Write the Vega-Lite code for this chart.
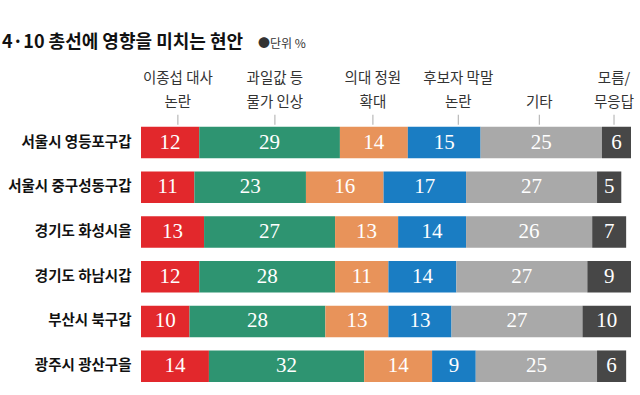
{
  "$schema": "https://vega.github.io/schema/vega-lite/v6.json",
  "width": 490,
  "height": 300,
  "autosize": "none",
  "padding": {"left": 141, "top": 82, "right": 9, "bottom": 13},
  "background": "white",
  "title": {
    "text": "4·10 총선에 영향을 미치는 현안",
    "anchor": "start",
    "frame": "group",
    "dx": -139,
    "offset": 0,
    "dy": 14,
    "font": "Noto Sans CJK KR",
    "fontSize": 18,
    "fontWeight": "bold",
    "color": "#111111"
  },
  "config": {"font": "Noto Sans CJK KR", "view": {"stroke": null}},
  "datasets": {
    "main": [
      {"d": "서울시 영등포구갑", "c": "이종섭 대사 논란", "k": 1, "v": 12},
      {"d": "서울시 영등포구갑", "c": "과일값 등 물가 인상", "k": 2, "v": 29},
      {"d": "서울시 영등포구갑", "c": "의대 정원 확대", "k": 3, "v": 14},
      {"d": "서울시 영등포구갑", "c": "후보자 막말 논란", "k": 4, "v": 15},
      {"d": "서울시 영등포구갑", "c": "기타", "k": 5, "v": 25},
      {"d": "서울시 영등포구갑", "c": "모름/무응답", "k": 6, "v": 6},
      {"d": "서울시 중구성동구갑", "c": "이종섭 대사 논란", "k": 1, "v": 11},
      {"d": "서울시 중구성동구갑", "c": "과일값 등 물가 인상", "k": 2, "v": 23},
      {"d": "서울시 중구성동구갑", "c": "의대 정원 확대", "k": 3, "v": 16},
      {"d": "서울시 중구성동구갑", "c": "후보자 막말 논란", "k": 4, "v": 17},
      {"d": "서울시 중구성동구갑", "c": "기타", "k": 5, "v": 27},
      {"d": "서울시 중구성동구갑", "c": "모름/무응답", "k": 6, "v": 5},
      {"d": "경기도 화성시을", "c": "이종섭 대사 논란", "k": 1, "v": 13},
      {"d": "경기도 화성시을", "c": "과일값 등 물가 인상", "k": 2, "v": 27},
      {"d": "경기도 화성시을", "c": "의대 정원 확대", "k": 3, "v": 13},
      {"d": "경기도 화성시을", "c": "후보자 막말 논란", "k": 4, "v": 14},
      {"d": "경기도 화성시을", "c": "기타", "k": 5, "v": 26},
      {"d": "경기도 화성시을", "c": "모름/무응답", "k": 6, "v": 7},
      {"d": "경기도 하남시갑", "c": "이종섭 대사 논란", "k": 1, "v": 12},
      {"d": "경기도 하남시갑", "c": "과일값 등 물가 인상", "k": 2, "v": 28},
      {"d": "경기도 하남시갑", "c": "의대 정원 확대", "k": 3, "v": 11},
      {"d": "경기도 하남시갑", "c": "후보자 막말 논란", "k": 4, "v": 14},
      {"d": "경기도 하남시갑", "c": "기타", "k": 5, "v": 27},
      {"d": "경기도 하남시갑", "c": "모름/무응답", "k": 6, "v": 9},
      {"d": "부산시 북구갑", "c": "이종섭 대사 논란", "k": 1, "v": 10},
      {"d": "부산시 북구갑", "c": "과일값 등 물가 인상", "k": 2, "v": 28},
      {"d": "부산시 북구갑", "c": "의대 정원 확대", "k": 3, "v": 13},
      {"d": "부산시 북구갑", "c": "후보자 막말 논란", "k": 4, "v": 13},
      {"d": "부산시 북구갑", "c": "기타", "k": 5, "v": 27},
      {"d": "부산시 북구갑", "c": "모름/무응답", "k": 6, "v": 10},
      {"d": "광주시 광산구을", "c": "이종섭 대사 논란", "k": 1, "v": 14},
      {"d": "광주시 광산구을", "c": "과일값 등 물가 인상", "k": 2, "v": 32},
      {"d": "광주시 광산구을", "c": "의대 정원 확대", "k": 3, "v": 14},
      {"d": "광주시 광산구을", "c": "후보자 막말 논란", "k": 4, "v": 9},
      {"d": "광주시 광산구을", "c": "기타", "k": 5, "v": 25},
      {"d": "광주시 광산구을", "c": "모름/무응답", "k": 6, "v": 6}
    ],
    "header": [
      {"l1": "이종섭 대사", "l2": "논란", "p": 7.6},
      {"l1": "과일값 등", "l2": "물가 인상", "p": 27.6},
      {"l1": "의대 정원", "l2": "확대", "p": 47.8},
      {"l1": "후보자 막말", "l2": "논란", "p": 65.4},
      {"l1": "", "l2": "기타", "p": 82.1},
      {"l1": "모름/", "l2": "무응답", "p": 97.5}
    ],
    "unit": [{"lab": "●단위 %", "p": 24.1}]
  },
  "encoding": {
    "y": {
      "field": "d",
      "type": "nominal",
      "scale": {
        "domain": ["h", "서울시 영등포구갑", "서울시 중구성동구갑", "경기도 화성시을", "경기도 하남시갑", "부산시 북구갑", "광주시 광산구을"],
        "paddingInner": 0.295,
        "paddingOuter": 0
      },
      "axis": {
        "title": null,
        "domain": false,
        "ticks": false,
        "labelPadding": 10,
        "labelFontSize": 14.5,
        "labelFontWeight": "bold",
        "labelColor": "#111111",
        "labelFont": "Noto Sans CJK KR",
        "labelExpr": "datum.value == 'h' ? '' : datum.value"
      }
    }
  },
  "layer": [
    {
      "data": {"name": "main"},
      "mark": {"type": "bar"},
      "encoding": {
        "x": {"field": "v", "type": "quantitative", "stack": "zero", "scale": {"domain": [0, 101], "nice": false, "zero": true}, "axis": null},
        "color": {
          "field": "c",
          "type": "nominal",
          "scale": {
            "domain": ["이종섭 대사 논란", "과일값 등 물가 인상", "의대 정원 확대", "후보자 막말 논란", "기타", "모름/무응답"],
            "range": ["#e2282c", "#2e9471", "#e8935a", "#1a7dc3", "#a9a9a9", "#474747"]
          },
          "legend": null
        },
        "order": {"field": "k", "type": "quantitative"}
      }
    },
    {
      "data": {"name": "main"},
      "mark": {"type": "text", "color": "white", "font": "Liberation Serif", "fontSize": 21},
      "encoding": {
        "x": {"field": "v", "type": "quantitative", "stack": "zero", "bandPosition": 0.5},
        "detail": {"field": "c", "type": "nominal"},
        "order": {"field": "k", "type": "quantitative"},
        "text": {"field": "v", "type": "quantitative"}
      }
    },
    {
      "data": {"name": "header"},
      "mark": {"type": "text", "baseline": "middle", "fontSize": 14.5, "color": "#333333", "yOffset": -19},
      "encoding": {
        "x": {"field": "p", "type": "quantitative"},
        "y": {"datum": "h", "type": "nominal"},
        "text": {"field": "l1", "type": "nominal"}
      }
    },
    {
      "data": {"name": "header"},
      "mark": {"type": "text", "baseline": "middle", "fontSize": 14.5, "color": "#333333", "yOffset": 5.5},
      "encoding": {
        "x": {"field": "p", "type": "quantitative"},
        "y": {"datum": "h", "type": "nominal"},
        "text": {"field": "l2", "type": "nominal"}
      }
    },
    {
      "data": {"name": "header"},
      "mark": {"type": "tick", "orient": "vertical", "size": 10, "thickness": 1, "color": "#888888", "yOffset": 22},
      "encoding": {
        "x": {"field": "p", "type": "quantitative"},
        "y": {"datum": "h", "type": "nominal"}
      }
    },
    {
      "data": {"name": "unit"},
      "mark": {"type": "text", "align": "left", "baseline": "middle", "fontSize": 12, "color": "#333333", "yOffset": -54},
      "encoding": {
        "x": {"field": "p", "type": "quantitative"},
        "y": {"datum": "h", "type": "nominal"},
        "text": {"field": "lab", "type": "nominal"}
      }
    }
  ]
}
